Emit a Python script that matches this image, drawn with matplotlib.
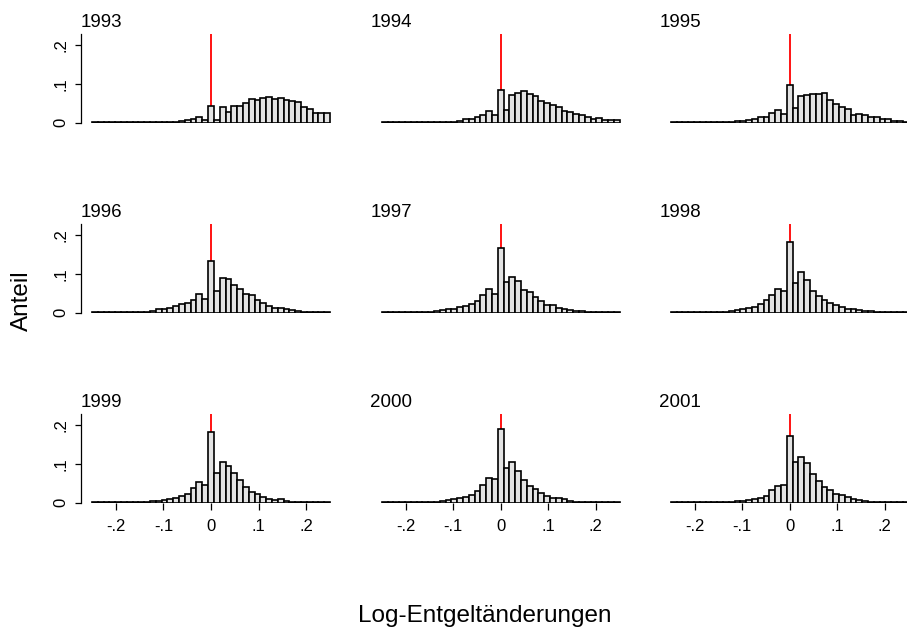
import numpy as np
import matplotlib
matplotlib.use("Agg")
import matplotlib.pyplot as plt

plt.rcParams['font.family'] = ['Liberation Sans', 'DejaVu Sans']

years = ["1993", "1994", "1995", "1996", "1997", "1998", "1999", "2000", "2001"]
n_bins = 41
x_min, x_max = -0.25, 0.25

share_1993 = [0.001]*11 + [0.001, 0.001, 0.002, 0.003, 0.004, 0.006, 0.009, 0.016, 0.006,
              0.044,
              0.006, 0.040, 0.027, 0.042, 0.042, 0.051, 0.060, 0.059, 0.065, 0.066,
              0.062, 0.064, 0.059, 0.055, 0.053, 0.040, 0.035, 0.026, 0.025, 0.025]
share_1994 = [0.001]*10 + [0.001, 0.002, 0.003, 0.004, 0.009, 0.009, 0.015, 0.021, 0.031, 0.019,
              0.084,
              0.034, 0.071, 0.078, 0.083, 0.075, 0.069, 0.057, 0.052, 0.045, 0.040,
              0.031, 0.028, 0.022, 0.019, 0.016, 0.010, 0.012, 0.007, 0.007, 0.006]
share_1995 = [0.001]*9 + [0.001, 0.003, 0.004, 0.005, 0.007, 0.009, 0.014, 0.016, 0.026, 0.034, 0.022,
              0.097,
              0.037, 0.070, 0.071, 0.074, 0.074, 0.076, 0.059, 0.049, 0.041, 0.036,
              0.020, 0.023, 0.019, 0.014, 0.014, 0.009, 0.009, 0.005, 0.004, 0.003]
share_1996 = [0.001]*6 + [0.001, 0.002, 0.002, 0.003, 0.004, 0.009, 0.009, 0.012, 0.018, 0.022, 0.026, 0.034, 0.048, 0.036,
              0.133,
              0.055, 0.090, 0.088, 0.071, 0.061, 0.048, 0.047, 0.033, 0.026, 0.018,
              0.013, 0.012, 0.009, 0.007, 0.005, 0.003, 0.002, 0.001, 0.001, 0.001]
share_1997 = [0.001]*6 + [0.001, 0.001, 0.002, 0.004, 0.007, 0.009, 0.010, 0.014, 0.018, 0.022, 0.029, 0.046, 0.060, 0.048,
              0.166,
              0.079, 0.093, 0.083, 0.059, 0.053, 0.040, 0.031, 0.019, 0.019, 0.012,
              0.009, 0.007, 0.005, 0.004, 0.003, 0.002, 0.001, 0.001, 0.001, 0.001]
share_1998 = [0.001]*7 + [0.001, 0.002, 0.003, 0.005, 0.007, 0.009, 0.012, 0.016, 0.022, 0.032, 0.047, 0.062, 0.055,
              0.183,
              0.078, 0.104, 0.084, 0.057, 0.042, 0.034, 0.026, 0.019, 0.014, 0.010,
              0.009, 0.007, 0.005, 0.004, 0.002, 0.001, 0.001, 0.001, 0.001, 0.001]
share_1999 = [0.001]*7 + [0.001, 0.002, 0.003, 0.004, 0.005, 0.008, 0.009, 0.013, 0.018, 0.022, 0.037, 0.053, 0.047,
              0.183,
              0.078, 0.106, 0.096, 0.078, 0.059, 0.041, 0.028, 0.022, 0.016, 0.010,
              0.007, 0.009, 0.005, 0.003, 0.003, 0.002, 0.001, 0.001, 0.001, 0.001]
share_2000 = [0.001]*7 + [0.001, 0.002, 0.003, 0.004, 0.007, 0.009, 0.012, 0.014, 0.021, 0.030, 0.045, 0.064, 0.062,
              0.190,
              0.089, 0.105, 0.083, 0.059, 0.044, 0.036, 0.024, 0.017, 0.013, 0.011,
              0.009, 0.005, 0.003, 0.002, 0.001, 0.001, 0.001, 0.001, 0.001, 0.001]
share_2001 = [0.001]*8 + [0.001, 0.002, 0.003, 0.005, 0.005, 0.007, 0.010, 0.012, 0.017, 0.032, 0.044, 0.046,
              0.172,
              0.106, 0.117, 0.102, 0.074, 0.057, 0.041, 0.033, 0.022, 0.019, 0.014,
              0.010, 0.007, 0.005, 0.003, 0.001, 0.001, 0.001, 0.001, 0.001, 0.001]

shares = [share_1993, share_1994, share_1995, share_1996, share_1997,
          share_1998, share_1999, share_2000, share_2001]

xtick_vals = [-0.2, -0.1, 0.0, 0.1, 0.2]
xtick_labels = ["-.2", "-.1", "0", ".1", ".2"]
ytick_vals = [0.0, 0.1, 0.2]
ytick_labels = ["0", ".1", ".2"]

W, H = 907, 632
fig = plt.figure(figsize=(W/100, H/100), dpi=100)

edges = np.linspace(x_min, x_max, n_bins + 1)
width = edges[1] - edges[0]
centers = edges[:-1] + width/2

col_zero_px = [211.0, 500.7, 789.7]
row_zero_px = [122.7, 312.7, 502.7]
px_per_unit = 476.0
half_w_px = 130.3
top_px_off = 88.7
xl = half_w_px / px_per_unit
ytop = top_px_off / 387.0

for k, (yr, vals) in enumerate(zip(years, shares)):
    r, c = divmod(k, 3)
    left = (col_zero_px[c] - half_w_px) / W
    bottom = (H - row_zero_px[r]) / H
    ax = fig.add_axes([left, bottom, 2*half_w_px/W, top_px_off/H])
    assert len(vals) == n_bins
    ax.bar(centers, vals, width=width, color="#e3e3e3", edgecolor="black",
           linewidth=1.2, align="center", zorder=2)
    ax.axvline(0, color="red", linewidth=1.3, zorder=1)
    ax.set_xlim(-xl, xl)
    ax.set_ylim(0, ytop)
    for s in ["top", "right", "bottom"]:
        ax.spines[s].set_visible(False)
    ax.set_facecolor("none")
    if c == 0:
        ax.spines["left"].set_linewidth(0.9)
        ax.set_yticks(ytick_vals)
        ax.set_yticklabels(ytick_labels, rotation=90, va="center", fontsize=12)
        ax.tick_params(axis="y", length=4, width=0.9, pad=5)
    else:
        ax.spines["left"].set_visible(False)
        ax.set_yticks([])
    if r == 2:
        ax.set_xticks(xtick_vals)
        ax.set_xticklabels(xtick_labels, fontsize=12)
        ax.tick_params(axis="x", length=5, width=0.9, pad=7)
    else:
        ax.set_xticks([])
    ax.text(0.0, 1.0 + 7/top_px_off, yr, transform=ax.transAxes, ha="left",
            va="baseline", fontsize=13.5)

fig.text(22/W, 1 - 301/H, "Anteil", rotation=90, ha="center", va="center", fontsize=17.5)
fig.text(485/W, 1 - 622/H, "Log-Entgeltänderungen", ha="center", va="baseline", fontsize=17.5)

fig.savefig("out.png", dpi=100, facecolor="white")
